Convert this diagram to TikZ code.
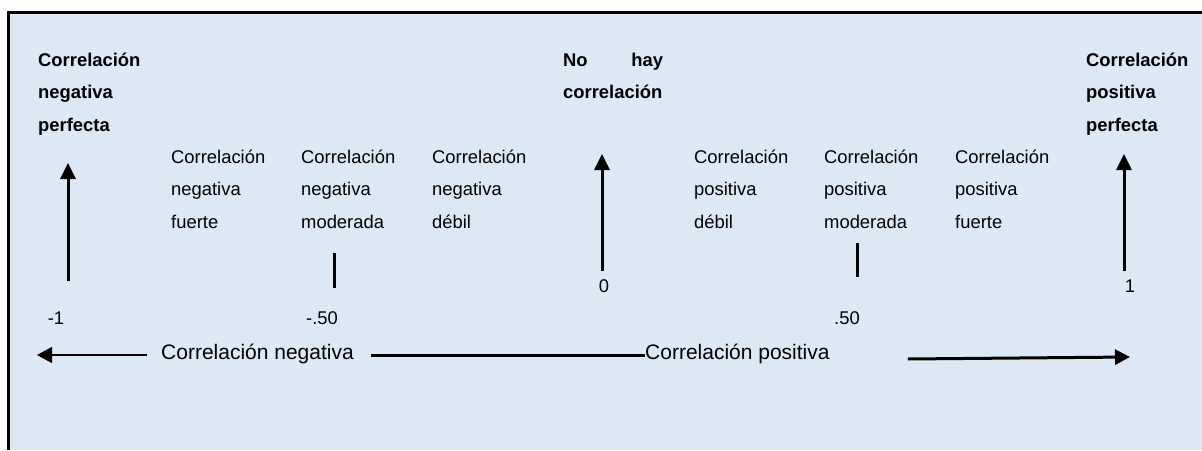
\documentclass[tikz,border=0pt]{standalone}
\usepackage{fontspec}
\setmainfont{Liberation Sans}
\usetikzlibrary{arrows.meta}
\definecolor{panelblue}{RGB}{221,232,245}

\begin{document}
\begin{tikzpicture}[x=1pt, y=-1pt,
  lbl/.style={anchor=base west, inner sep=0pt, align=left, font=\fontsize{18.4}{32.5}\selectfont},
  hdr/.style={lbl, font=\fontsize{18.4}{32.5}\selectfont\bfseries},
  num/.style={anchor=base, inner sep=0pt, font=\fontsize{18.4}{22}\selectfont},
  side/.style={anchor=base west, inner sep=0pt, font=\fontsize{21}{25}\selectfont},
  up/.style={line width=3pt, -{Triangle[length=16pt,width=15pt]}},
  tickmark/.style={line width=3pt},
  thinarr/.style={line width=1.3pt, -{Triangle[length=15pt,width=16pt]}},
  thickarr/.style={line width=3pt, -{Triangle[length=15pt,width=15pt]}},
  thickline/.style={line width=3pt}]
 \useasboundingbox (0,0) rectangle (1202,450);
 % panel
 \fill[panelblue] (8,12) rectangle (1202,450);
 \draw[line width=3pt] (1202,12) -- (8,12) -- (8,450);
 %Nodes (placed at the baseline of their last line)
 \node[hdr] (perfneg) at (38,131) {Correlación\\negativa\\perfecta};
 \node[lbl] (negfuerte) at (171,228) {Correlación\\negativa\\fuerte};
 \node[lbl] (negmod) at (301,228) {Correlación\\negativa\\moderada};
 \node[lbl] (negdebil) at (432,228) {Correlación\\negativa\\débil};
 \node[hdr] (nocorr) at (563,98.5) {\makebox[100pt][s]{No\hfill hay}\\correlación};
 \node[lbl] (posdebil) at (694,228) {Correlación\\positiva\\débil};
 \node[lbl] (posmod) at (824,228) {Correlación\\positiva\\moderada};
 \node[lbl] (posfuerte) at (955,228) {Correlación\\positiva\\fuerte};
 \node[hdr] (perfpos) at (1086,131) {Correlación\\positiva\\perfecta};
 % values
 \node[num] (vneg) at (56,324) {-1};
 \node[num] (vnegmid) at (322,324) {-.50};
 \node[num] (vzero) at (604,292) {0};
 \node[num] (vposmid) at (847,324) {.50};
 \node[num] (vpos) at (1130,292) {1};
 % bottom
 \node[side] (neglbl) at (161,359) {Correlación negativa};
 \node[side] (poslbl) at (645,359) {Correlación positiva};
 \coordinate (lefttip) at (37,355);
 \coordinate (righttip) at (1130,357);
 % Arrows
 \coordinate (mneg) at (68,281);   \coordinate (mnegtop) at (68,163);
 \coordinate (mzero) at (602,271); \coordinate (mzerotop) at (602,154);
 \coordinate (mpos) at (1124,271); \coordinate (mpostop) at (1124,154);
 \draw[up] (mneg) -- (mnegtop);
 \draw[up] (mzero) -- (mzerotop);
 \draw[up] (mpos) -- (mpostop);
 \coordinate (tneg) at (334,288);  \coordinate (tnegtop) at (334,253);
 \coordinate (tpos) at (857,277);  \coordinate (tpostop) at (857,243);
 \draw[tickmark] (tneg) -- (tnegtop);
 \draw[tickmark] (tpos) -- (tpostop);
 \draw[thinarr] ([xshift=-14pt,yshift=4pt]neglbl.base west) -- (lefttip);
 \draw[thickline] ([xshift=17pt,yshift=4pt]neglbl.base east) -- ([yshift=4pt]poslbl.base west);
 \draw[thickarr] ([xshift=78pt]poslbl.base east) -- (righttip);
\end{tikzpicture}
\end{document}
